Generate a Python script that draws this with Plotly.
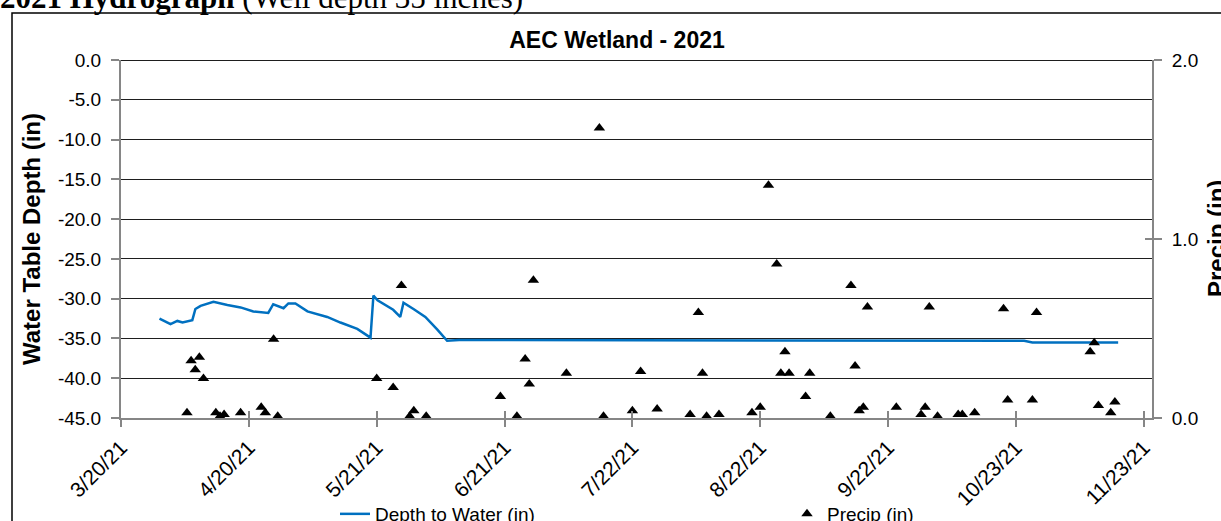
import plotly.graph_objects as go

# ---- data -------------------------------------------------------------
depth_dates = [
    "2021-03-29 08:00", "2021-04-01 00:00", "2021-04-02 16:00", "2021-04-03 22:00",
    "2021-04-06 07:00", "2021-04-07 01:00", "2021-04-08 07:00", "2021-04-11 10:00",
    "2021-04-14 19:00", "2021-04-18 00:00", "2021-04-21 02:00", "2021-04-24 17:00",
    "2021-04-25 22:00", "2021-04-28 10:00", "2021-04-29 14:00", "2021-05-01 07:00",
    "2021-05-04 05:00", "2021-05-09 00:00", "2021-05-12 05:00", "2021-05-16 07:00",
    "2021-05-19 12:00", "2021-05-20 05:00", "2021-05-21 05:00", "2021-05-23 14:00",
    "2021-05-25 00:00", "2021-05-26 17:00", "2021-05-27 12:00", "2021-05-29 22:00",
    "2021-06-01 19:00", "2021-06-04 17:00", "2021-06-07 02:00", "2021-06-10 00:00",
    "2021-10-25 00:00", "2021-10-27 00:00", "2021-11-16 19:00",
]
depth_in = [
    -32.5, -33.2, -32.8, -33.0,
    -32.7, -31.3, -30.9, -30.4,
    -30.8, -31.1, -31.6, -31.8,
    -30.7, -31.2, -30.6, -30.6,
    -31.6, -32.3, -33.0, -33.8,
    -34.9, -29.6, -30.2, -31.0,
    -31.4, -32.3, -30.5, -31.3,
    -32.3, -33.9, -35.3, -35.2,
    -35.3, -35.5, -35.5,
]

precip_dates = [
    "2021-04-05", "2021-04-06", "2021-04-07", "2021-04-08", "2021-04-09",
    "2021-04-12", "2021-04-13", "2021-04-14", "2021-04-18", "2021-04-23",
    "2021-04-24", "2021-04-26", "2021-04-27", "2021-05-21", "2021-05-25",
    "2021-05-27", "2021-05-29", "2021-05-30", "2021-06-02", "2021-06-20",
    "2021-06-24", "2021-06-26", "2021-06-27", "2021-06-28", "2021-07-06",
    "2021-07-14", "2021-07-15", "2021-07-22", "2021-07-24", "2021-07-28",
    "2021-08-05", "2021-08-07", "2021-08-08", "2021-08-09", "2021-08-12",
    "2021-08-20", "2021-08-22", "2021-08-24", "2021-08-26", "2021-08-27",
    "2021-08-28", "2021-08-29", "2021-09-02", "2021-09-03", "2021-09-08",
    "2021-09-13", "2021-09-14", "2021-09-15", "2021-09-16", "2021-09-17",
    "2021-09-24", "2021-09-30", "2021-10-01", "2021-10-02", "2021-10-04",
    "2021-10-09", "2021-10-10", "2021-10-13", "2021-10-20", "2021-10-21",
    "2021-10-27", "2021-10-28", "2021-11-10", "2021-11-11", "2021-11-12",
    "2021-11-15", "2021-11-16",
]
precip_in = [
    0.03, 0.32, 0.27, 0.34, 0.22,
    0.03, 0.01, 0.02, 0.03, 0.06,
    0.03, 0.44, 0.01, 0.22, 0.17,
    0.74, 0.01, 0.04, 0.01, 0.12,
    0.01, 0.33, 0.19, 0.77, 0.25,
    1.62, 0.01, 0.04, 0.26, 0.05,
    0.02, 0.59, 0.25, 0.01, 0.02,
    0.03, 0.06, 1.30, 0.86, 0.25,
    0.37, 0.25, 0.12, 0.25, 0.01,
    0.74, 0.29, 0.04, 0.06, 0.62,
    0.06, 0.02, 0.06, 0.62, 0.01,
    0.02, 0.02, 0.03, 0.61, 0.10,
    0.10, 0.59, 0.37, 0.42, 0.07,
    0.03, 0.09,
]

x_tick_dates = ["2021-03-20", "2021-04-20", "2021-05-21", "2021-06-21", "2021-07-22",
                "2021-08-22", "2021-09-22", "2021-10-23", "2021-11-23"]
x_tick_labels = ["3/20/21", "4/20/21", "5/21/21", "6/21/21", "7/22/21",
                 "8/22/21", "9/22/21", "10/23/21", "11/23/21"]
depth_ticks = [0, -5, -10, -15, -20, -25, -30, -35, -40, -45]
depth_tick_labels = ["0.0", "-5.0", "-10.0", "-15.0", "-20.0", "-25.0", "-30.0",
                     "-35.0", "-40.0", "-45.0"]
precip_ticks = [0, 1, 2]
precip_tick_labels = ["0.0", "1.0", "2.0"]

# ---- geometry helpers (pixel -> paper) --------------------------------
W, H = 1221, 521
L, R, T, B = 121, 69, 60, 103
PW, PH = W - L - R, H - T - B


def px(x):
    return (x - L) / PW


def py(y):
    return (H - B - y) / PH


FONT = "Liberation Sans, Arial, sans-serif"
AXIS_GRAY = "#868686"
GRID = "#1e1e1e"
X_RANGE = ["2021-03-20", "2021-11-25"]

fig = go.Figure()

fig.add_trace(go.Scatter(
    x=depth_dates, y=depth_in, mode="lines", name="Depth to Water (in)",
    line=dict(color="#0070C0", width=2.5),
    xaxis="x", yaxis="y", legend="legend",
))
fig.add_trace(go.Scatter(
    x=precip_dates, y=precip_in, mode="markers", name="Precip (in)",
    marker=dict(symbol="triangle-up", size=10, color="black"),
    xaxis="x2", yaxis="y2", legend="legend2",
))
# empty trace carrying the inner tick marks of the right axis
fig.add_trace(go.Scatter(x=[], y=[], xaxis="x", yaxis="y3", showlegend=False,
                         hoverinfo="skip"))

tick_font = dict(family=FONT, size=19, color="black")
date_tick_font = dict(family=FONT, size=21, color="black")
legend_font = dict(family=FONT, size=19, color="black")

fig.update_layout(
    width=W, height=H,
    margin=dict(l=L, r=R, t=T, b=B, autoexpand=False),
    paper_bgcolor="white", plot_bgcolor="white",
    showlegend=True,
    title=dict(
        text="<b>AEC Wetland - 2021</b>",
        font=dict(family=FONT, size=23, color="black"),
        x=617 / W, xanchor="center", xref="container",
        y=1 - 40 / H, yanchor="middle",
    ),
    xaxis=dict(
        type="date", range=X_RANGE, automargin=False,
        tickvals=x_tick_dates, ticktext=x_tick_labels, tickangle=-45,
        tickfont=date_tick_font,
        ticks="outside", ticklen=7, tickwidth=1.5, tickcolor=AXIS_GRAY,
        showline=True, linecolor=AXIS_GRAY, linewidth=2,
        showgrid=False, zeroline=False,
    ),
    xaxis2=dict(
        type="date", overlaying="x", matches="x", anchor="y2", side="bottom",
        automargin=False, tickvals=x_tick_dates, showticklabels=False,
        ticks="inside", ticklen=7, tickwidth=1.5, tickcolor=AXIS_GRAY,
        showline=False, showgrid=False, zeroline=False,
    ),
    yaxis=dict(
        range=[-45, 0], tickvals=depth_ticks, ticktext=depth_tick_labels,
        automargin=False, tickfont=tick_font, ticklabelstandoff=6,
        ticks="outside", ticklen=8, tickwidth=1.5, tickcolor=AXIS_GRAY,
        showline=True, linecolor=AXIS_GRAY, linewidth=2,
        showgrid=True, gridcolor=GRID, gridwidth=1,
        zeroline=True, zerolinecolor=GRID, zerolinewidth=1,
        title=dict(text="<b>Water Table Depth (in)</b>",
                   font=dict(family=FONT, size=24, color="black"), standoff=10),
    ),
    yaxis2=dict(
        range=[0, 2], tickvals=precip_ticks, ticktext=precip_tick_labels,
        overlaying="y", side="right", anchor="x2", automargin=False,
        tickfont=tick_font, ticklabelstandoff=6,
        ticks="outside", ticklen=8, tickwidth=1.5, tickcolor=AXIS_GRAY,
        showline=True, linecolor=AXIS_GRAY, linewidth=2,
        showgrid=False, zeroline=False,
    ),
    yaxis3=dict(
        range=[0, 2], tickvals=precip_ticks, overlaying="y", side="right",
        anchor="x", showticklabels=False, automargin=False,
        ticks="inside", ticklen=7, tickwidth=1.5, tickcolor=AXIS_GRAY,
        showline=False, showgrid=False, zeroline=False,
    ),
    legend=dict(
        orientation="h", x=px(335), xanchor="left", y=py(514), yanchor="middle",
        font=legend_font, bgcolor="rgba(0,0,0,0)",
    ),
    legend2=dict(
        orientation="h", x=px(787), xanchor="left", y=py(514), yanchor="middle",
        font=legend_font, bgcolor="rgba(0,0,0,0)",
    ),
)

# right-axis title, running off the right edge of the page
fig.add_annotation(
    text="<b>Precip (in)</b>", textangle=-90,
    xref="paper", yref="paper", x=px(1216), y=py(239),
    xanchor="center", yanchor="middle", showarrow=False,
    font=dict(family=FONT, size=24, color="black"),
)

# outer chart frame
fig.add_shape(type="rect", xref="paper", yref="paper",
              x0=px(12), x1=px(1240), y0=py(560), y1=py(13),
              line=dict(color="black", width=1.5), fillcolor="rgba(0,0,0,0)",
              layer="below")

# document heading above the chart frame
fig.add_annotation(
    text="<b>2021 Hydrograph</b> (Well depth 35 inches)",
    xref="paper", yref="paper", x=px(-2), y=py(17),
    xanchor="left", yanchor="bottom", showarrow=False,
    font=dict(family="Liberation Serif, Times New Roman, serif", size=31,
              color="black"),
)

fig.write_html("out.html")
